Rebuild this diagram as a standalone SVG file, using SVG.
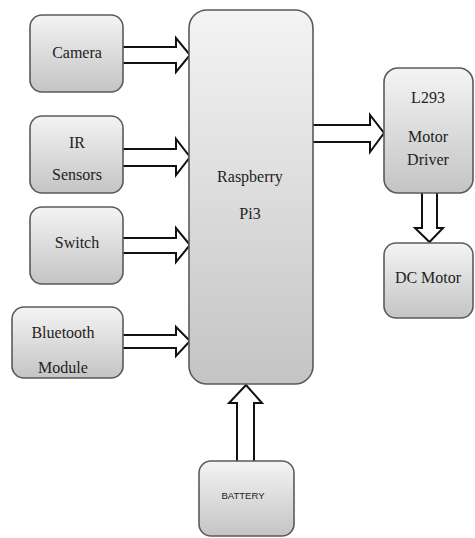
<svg xmlns="http://www.w3.org/2000/svg" width="475" height="538" viewBox="0 0 475 538">
<defs>
<linearGradient id="g" x1="0" y1="0" x2="0" y2="1">
<stop offset="0" stop-color="#f4f4f4"/>
<stop offset="1" stop-color="#c4c4c4"/>
</linearGradient>
<style>
.box{fill:url(#g);stroke:#5a5a5a;stroke-width:1.6}
.t{font-family:'Liberation Serif','DejaVu Serif','Times New Roman',serif;font-size:16px;fill:#222;text-anchor:middle}
.s{font-family:'Liberation Sans',Arial,sans-serif;font-size:9.5px;fill:#222;text-anchor:middle}
.arr{fill:#fff;stroke:#111;stroke-width:2;stroke-linejoin:miter}
</style>
</defs>
<rect width="475" height="538" fill="#fff"/>
<g id="connectors">
<path class="arr" d="M123,47 H176 V38 L190,55 L176,72 V63 H123"/>
<path class="arr" d="M123,149 H176 V139 L190,157 L176,175 V166 H123"/>
<path class="arr" d="M123,238 H176 V228 L190,245 L176,262 V253 H123"/>
<path class="arr" d="M123,335 H176 V327 L190,341 L176,356 V348 H123"/>
<path class="arr" d="M313,125 H370 V115 L384,133 L370,152 V142 H313"/>
<path class="arr" d="M422,193 V228 H415 L429.5,242 L443,228 H437 V193"/>
<path class="arr" d="M237,461 V403 H229 L246,385 L262,403 H254 V461"/>
</g>
<g id="camera"><rect class="box" x="30" y="15" width="93" height="77" rx="12"/><text class="t" x="77" y="58">Camera</text></g>
<g id="ir"><rect class="box" x="30" y="116" width="93" height="77" rx="12"/><text class="t" x="77" y="148">IR</text><text class="t" x="77" y="180">Sensors</text></g>
<g id="switch"><rect class="box" x="30" y="207" width="93" height="77" rx="12"/><text class="t" x="77" y="248">Switch</text></g>
<g id="bluetooth"><rect class="box" x="12" y="307" width="111" height="71" rx="12"/><text class="t" x="63" y="338">Bluetooth</text><text class="t" x="63" y="373">Module</text></g>
<g id="raspberry"><rect class="box" x="189" y="10" width="124" height="374" rx="18"/><text class="t" x="250" y="182">Raspberry</text><text class="t" x="250" y="219">Pi3</text></g>
<g id="l293"><rect class="box" x="384" y="68" width="89" height="125" rx="14"/><text class="t" x="428" y="103">L293</text><text class="t" x="428" y="142">Motor</text><text class="t" x="428" y="165">Driver</text></g>
<g id="dcmotor"><rect class="box" x="384" y="243" width="89" height="75" rx="12"/><text class="t" x="428" y="283">DC Motor</text></g>
<g id="battery"><rect class="box" x="199" y="461" width="95" height="75" rx="12"/><text class="s" x="243" y="499">BATTERY</text></g>
</svg>
